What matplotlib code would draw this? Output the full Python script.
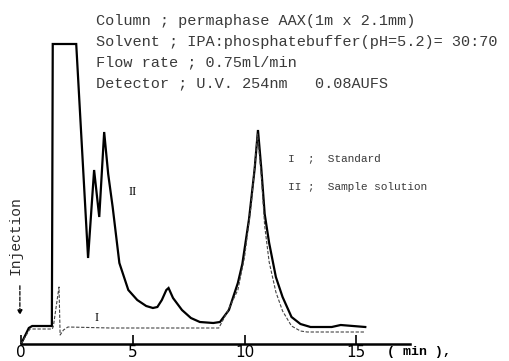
import numpy as np
import matplotlib.pyplot as plt

# chromatogram II (sample solution), time in min, signal in arbitrary units
t_sample = [0.0, 0.35, 0.5, 1.38, 1.40, 1.42, 2.47, 3.0, 3.27, 3.5, 3.72, 3.9, 4.1,
            4.4, 4.8, 5.2, 5.6, 5.9, 6.1, 6.3, 6.5, 6.6, 6.8, 7.2, 7.6, 8.0, 8.6,
            8.9, 9.3, 9.7, 9.9, 10.2, 10.45, 10.6, 10.75, 10.9, 11.1, 11.4, 11.7,
            12.1, 12.5, 12.95, 13.9, 14.3, 15.4]
h_sample = [0, 16, 18, 18, 150, 300, 300, 86, 174, 127, 212, 170, 137,
            81, 54, 44, 38, 36, 37, 44, 54, 56, 46, 34, 26, 22, 21,
            22, 34, 61, 80, 125, 175, 214, 175, 130, 101, 67, 47,
            27, 20, 17, 17, 19, 17]

# chromatogram I (standard)
t_std = [0.0, 0.4, 1.4, 1.45, 1.7, 1.75, 1.9, 2.1, 4.0, 8.85, 9.2, 9.7, 10.0,
         10.3, 10.58, 10.75, 10.9, 11.1, 11.4, 11.7, 12.1, 12.5, 12.8, 15.4]
h_std = [0, 15, 15, 18, 57, 9, 14, 17, 16, 16, 31, 54, 87,
         140, 210, 168, 118, 82, 52, 33, 18, 13, 12, 12]

xticks = [0, 5, 10, 15]

header = ["Column ; permaphase AAX(1m x 2.1mm)",
          "Solvent ; IPA:phosphatebuffer(pH=5.2)= 30:70",
          "Flow rate ; 0.75ml/min",
          "Detector ; U.V. 254nm   0.08AUFS"]
legend_lines = ["I  ;  Standard", "II ;  Sample solution"]

W, H = 509, 361
fig = plt.figure(figsize=(W / 100, H / 100), dpi=100)
ax = fig.add_axes([21 / W, 17 / H, 389 / W, 310 / H])
ax.set_xlim(0, 17.4)
ax.set_ylim(0, 310)

ax.plot(t_sample, h_sample, color='black', lw=1.6, solid_joinstyle='miter')
ax.plot(t_std, h_std, color='#444444', lw=0.8, dashes=(3, 1.5))

for s in ['top', 'right', 'left']:
    ax.spines[s].set_visible(False)
ax.spines['bottom'].set_linewidth(1.8)
ax.set_yticks([])
ax.set_xticks(xticks)
ax.set_xticklabels([str(v) for v in xticks], fontsize=11, family='DejaVu Sans')
ax.tick_params(axis='x', direction='in', length=6.5, width=1.2, pad=0.5)
ax.patch.set_alpha(0)

mono = 'Liberation Mono'
for i, line in enumerate(header):
    fig.text(96 / W, 1 - (21 + 20.7 * i) / H, line, family=mono, fontsize=11,
             color='#3a3a3a', va='center', ha='left')
for i, line in enumerate(legend_lines):
    fig.text(288 / W, 1 - (158 + 29 * i) / H, line, family=mono, fontsize=8,
             color='#3a3a3a', va='center', ha='left')

fig.text(387 / W, 1 - 352 / H, "( min ),", family=mono, fontsize=9.5,
         fontweight='bold', va='center', ha='left')

ax.text((133 - 21) / 22.33, 344 - 192, "II", family='Liberation Serif',
        fontsize=9, ha='center', va='center')
ax.text((97 - 21) / 22.33, 344 - 318, "I", family='Liberation Serif',
        fontsize=9, ha='center', va='center')

# injection marker
fig.text(16 / W, 1 - 236 / H, "Injection", family=mono, fontsize=10.5,
         rotation=90, va='center', ha='center', color='#2a2a2a')
ax.annotate("", xy=(-0.05, 344 - 318), xytext=(-0.05, 344 - 283),
            arrowprops=dict(arrowstyle='-|>', lw=0.9, ls=(0, (3, 1.5)),
                            color='black', mutation_scale=7),
            annotation_clip=False)

fig.savefig('out.png', dpi=100)
